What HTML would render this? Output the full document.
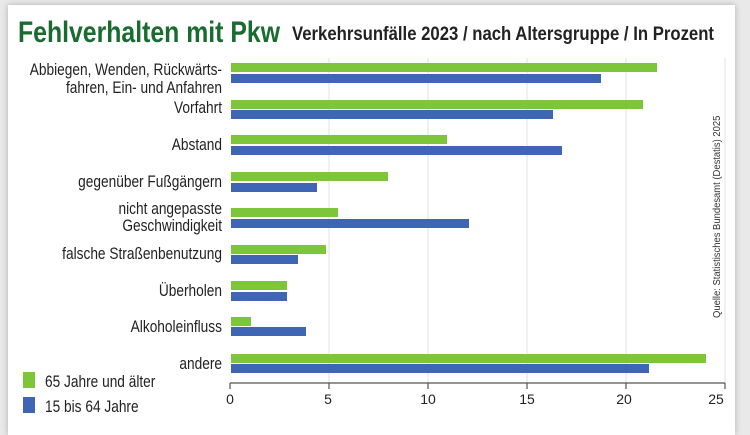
<!DOCTYPE html>
<html><head><meta charset="utf-8"><style>
body{margin:0;width:750px;height:421px;background:#e9e9e9;overflow:hidden;font-family:"Liberation Sans",sans-serif}
#card{position:absolute;left:8px;top:5px;width:727px;height:430px;background:#fff;box-shadow:0 0 6px rgba(0,0,0,.25)}
</style></head><body>
<div id="card"></div>
<svg width="750" height="421" style="position:absolute;left:0;top:0" font-family="Liberation Sans, sans-serif">
<text x="18" y="42" font-size="30" font-weight="bold" fill="#1a6b30" textLength="262" lengthAdjust="spacingAndGlyphs">Fehlverhalten mit Pkw</text>
<text x="292" y="40" font-size="19" font-weight="bold" fill="#222" textLength="422" lengthAdjust="spacingAndGlyphs">Verkehrsunfälle 2023 / nach Altersgruppe / In Prozent</text>
<g stroke="#e2e2e2" stroke-width="1">
<line x1="329" y1="58" x2="329" y2="383"/><line x1="428" y1="58" x2="428" y2="383"/><line x1="527" y1="58" x2="527" y2="383"/><line x1="626" y1="58" x2="626" y2="383"/><line x1="725" y1="58" x2="725" y2="383"/>
</g>
<g fill="#7dc63a">
<rect x="231" y="63" width="426" height="9"/><rect x="231" y="100" width="412" height="9"/><rect x="231" y="135" width="216" height="9"/><rect x="231" y="172" width="157" height="9"/><rect x="231" y="208" width="107" height="9"/><rect x="231" y="245" width="95" height="9"/><rect x="231" y="281" width="56" height="9"/><rect x="231" y="317" width="20" height="9"/><rect x="231" y="354" width="475" height="9"/>
</g>
<g fill="#3e66b5">
<rect x="231" y="74" width="370" height="9"/><rect x="231" y="110" width="322" height="9"/><rect x="231" y="146" width="331" height="9"/><rect x="231" y="183" width="86" height="9"/><rect x="231" y="219" width="238" height="9"/><rect x="231" y="255" width="67" height="9"/><rect x="231" y="292" width="56" height="9"/><rect x="231" y="327" width="75" height="9"/><rect x="231" y="364" width="418" height="9"/>
</g>
<g stroke="#555" stroke-width="1.2">
<line x1="230" y1="383" x2="725" y2="383"/>
<line x1="230" y1="383" x2="230" y2="389"/><line x1="329" y1="383" x2="329" y2="389"/><line x1="428" y1="383" x2="428" y2="389"/><line x1="527" y1="383" x2="527" y2="389"/><line x1="626" y1="383" x2="626" y2="389"/><line x1="725" y1="383" x2="725" y2="389"/>
</g>
<g font-size="14" fill="#222" text-anchor="middle">
<text x="230" y="404">0</text><text x="328" y="404">5</text><text x="428" y="404">10</text><text x="527" y="404">15</text><text x="624" y="404">20</text><text x="716" y="404">25</text>
</g>
<g font-size="16.5" fill="#222" text-anchor="end" transform="translate(222,0) scale(0.83,1)">
<text x="0" y="75">Abbiegen, Wenden, Rückwärts-</text>
<text x="0" y="93">fahren, Ein- und Anfahren</text>
<text x="0" y="113">Vorfahrt</text>
<text x="0" y="150">Abstand</text>
<text x="0" y="187">gegenüber Fußgängern</text>
<text x="0" y="214">nicht angepasste</text>
<text x="0" y="231">Geschwindigkeit</text>
<text x="0" y="259">falsche Straßenbenutzung</text>
<text x="0" y="296">Überholen</text>
<text x="0" y="332">Alkoholeinfluss</text>
<text x="0" y="369">andere</text>
</g>
<rect x="23" y="372" width="12" height="16" fill="#7dc63a"/>
<rect x="23" y="397" width="12" height="16" fill="#3e66b5"/>
<g font-size="16.5" fill="#222" transform="translate(45,0) scale(0.83,1)">
<text x="0" y="387">65 Jahre und älter</text>
<text x="0" y="412">15 bis 64 Jahre</text>
</g>
<text transform="translate(720,318) rotate(-90) scale(0.9,1)" font-size="10.5" fill="#333">Quelle: Statistisches Bundesamt (Destatis) 2025</text>
</svg>
</body></html>
